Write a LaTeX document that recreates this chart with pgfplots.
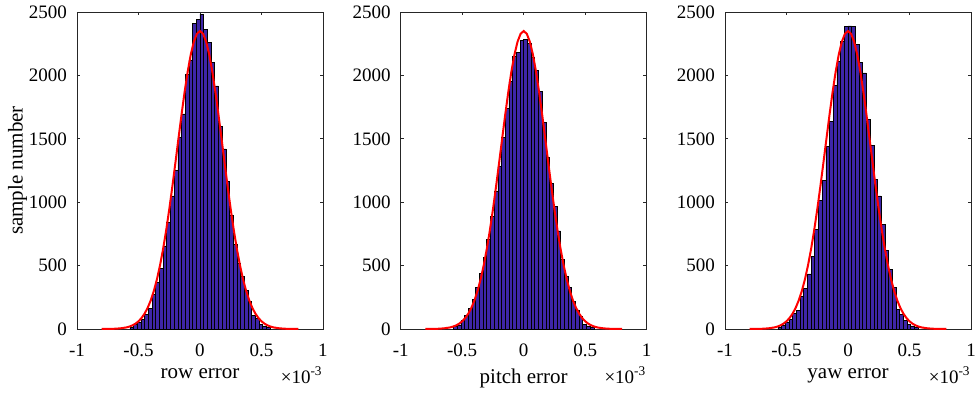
\documentclass[border=0pt]{standalone}
\usepackage{pgfplots}
\pgfplotsset{compat=1.18}
\usepackage{pgfplotstable}
\usepackage{fontspec}
\setmainfont{Liberation Serif}
\definecolor{barc}{rgb}{0.2422,0.1504,0.6603}
\definecolor{axc}{rgb}{0.15,0.15,0.15}

\pgfplotstableread{
x y
-0.555 10
-0.525 39
-0.495 55
-0.465 76
-0.435 116
-0.405 163
-0.375 276
-0.345 365
-0.315 478
-0.285 655
-0.255 839
-0.225 1049
-0.195 1254
-0.165 1509
-0.135 1696
-0.105 2011
-0.075 2122
-0.045 2411
-0.015 2442
0.015 2484
0.045 2366
0.075 2258
0.105 2103
0.135 1917
0.165 1601
0.195 1420
0.225 1162
0.255 899
0.285 668
0.315 518
0.345 413
0.375 302
0.405 216
0.435 110
0.465 84
0.495 39
0.525 24
0.555 10
}\rowdata

\pgfplotstableread{
x y
-0.555 18
-0.525 32
-0.495 66
-0.465 110
-0.435 163
-0.405 234
-0.375 329
-0.345 439
-0.315 563
-0.285 707
-0.255 891
-0.225 1083
-0.195 1280
-0.165 1512
-0.135 1740
-0.105 1951
-0.075 2148
-0.045 2182
-0.015 2274
0.015 2285
0.045 2253
0.075 2143
0.105 2037
0.135 1872
0.165 1630
0.195 1354
0.225 1149
0.255 970
0.285 773
0.315 549
0.345 418
0.375 329
0.405 216
0.435 150
0.465 97
0.495 39
0.525 24
0.555 10
}\pitchdata

\pgfplotstableread{
x y
-0.555 10
-0.525 32
-0.495 50
-0.465 76
-0.435 124
-0.405 145
-0.375 260
-0.345 321
-0.315 434
-0.285 570
-0.255 786
-0.225 1012
-0.195 1175
-0.165 1443
-0.135 1640
-0.105 1922
-0.075 2108
-0.045 2266
-0.015 2385
0.015 2390
0.045 2385
0.075 2245
0.105 2100
0.135 2020
0.165 1653
0.195 1451
0.225 1180
0.255 1049
0.285 828
0.315 618
0.345 471
0.375 329
0.405 155
0.435 116
0.465 66
0.495 39
0.525 24
0.555 10
}\yawdata

\pgfplotstableread{
x y
-0.8 0.2
-0.75 0.6
-0.7 1.8
-0.65 4.9
-0.6 12.2
-0.575 18.8
-0.55 28.3
-0.525 41.9
-0.5 60.9
-0.475 87.0
-0.45 122.0
-0.425 167.9
-0.4 227.0
-0.375 301.2
-0.35 392.5
-0.325 502.2
-0.3 631.0
-0.275 778.4
-0.25 943.0
-0.225 1121.7
-0.2 1310.1
-0.175 1502.2
-0.15 1691.6
-0.125 1870.4
-0.1 2030.6
-0.075 2164.6
-0.05 2265.7
-0.025 2328.6
0 2350
0.025 2328.6
0.05 2265.7
0.075 2164.6
0.1 2030.6
0.125 1870.4
0.15 1691.6
0.175 1502.2
0.2 1310.1
0.225 1121.7
0.25 943.0
0.275 778.4
0.3 631.0
0.325 502.2
0.35 392.5
0.375 301.2
0.4 227.0
0.425 167.9
0.45 122.0
0.475 87.0
0.5 60.9
0.525 41.9
0.55 28.3
0.575 18.8
0.6 12.2
0.65 4.9
0.7 1.8
0.75 0.6
0.8 0.2
}\fitdata

\pgfplotsset{
  histax/.style={
    scale only axis,
    width=123pt, height=158.5pt,
    xmin=-1, xmax=1, ymin=0, ymax=2500,
    xtick={-1,-0.5,0,0.5,1},
    ytick={0,500,1000,1500,2000,2500},
    axis line style={axc, line width=0.4pt},
    tick style={axc, line width=0.4pt},
    major tick length=1.7pt,
    tick align=inside,
    ticklabel style={font=\fontsize{9.5}{11}\selectfont, text=black},
    /pgf/number format/assume math mode=true,
    /pgf/number format/1000 sep={},
    scaled x ticks=false,
    xticklabel style={yshift=-4pt},
    yticklabel style={xshift=-1.5pt},
    label style={font=\fontsize{10.5}{12}\selectfont},
    xlabel style={yshift=1pt},
    clip=false,
  },
  barsty/.style={ybar, bar width=0.03, bar shift=0pt, fill=barc, draw=black, line width=0.3pt},
  fitsty/.style={red, line width=1pt, sharp plot, no marks},
}

\begin{document}
\begin{tikzpicture}
\useasboundingbox (-38.5pt,-32pt) rectangle (449.5pt,164.5pt);
\begin{axis}[histax, at={(0pt,0pt)}, xlabel={row error}, ylabel={sample number}, ylabel style={yshift=-6pt}]
\addplot[barsty] table[x=x,y=y] {\rowdata};
\addplot[fitsty] table[x=x,y=y] {\fitdata};
\node[anchor=base east, font=\fontsize{9.5}{11}\selectfont, inner sep=0pt] at (rel axis cs:1,0) [yshift=-27pt] {×10\textsuperscript{-3}};
\end{axis}
\begin{axis}[histax, at={(161.85pt,0pt)}, xlabel={pitch error}]
\addplot[barsty] table[x=x,y=y] {\pitchdata};
\addplot[fitsty] table[x=x,y=y] {\fitdata};
\node[anchor=base east, font=\fontsize{9.5}{11}\selectfont, inner sep=0pt] at (rel axis cs:1,0) [yshift=-27pt] {×10\textsuperscript{-3}};
\end{axis}
\begin{axis}[histax, at={(324pt,0pt)}, xlabel={yaw error}]
\addplot[barsty] table[x=x,y=y] {\yawdata};
\addplot[fitsty] table[x=x,y=y] {\fitdata};
\node[anchor=base east, font=\fontsize{9.5}{11}\selectfont, inner sep=0pt] at (rel axis cs:1,0) [yshift=-27pt] {×10\textsuperscript{-3}};
\end{axis}
\end{tikzpicture}
\end{document}
